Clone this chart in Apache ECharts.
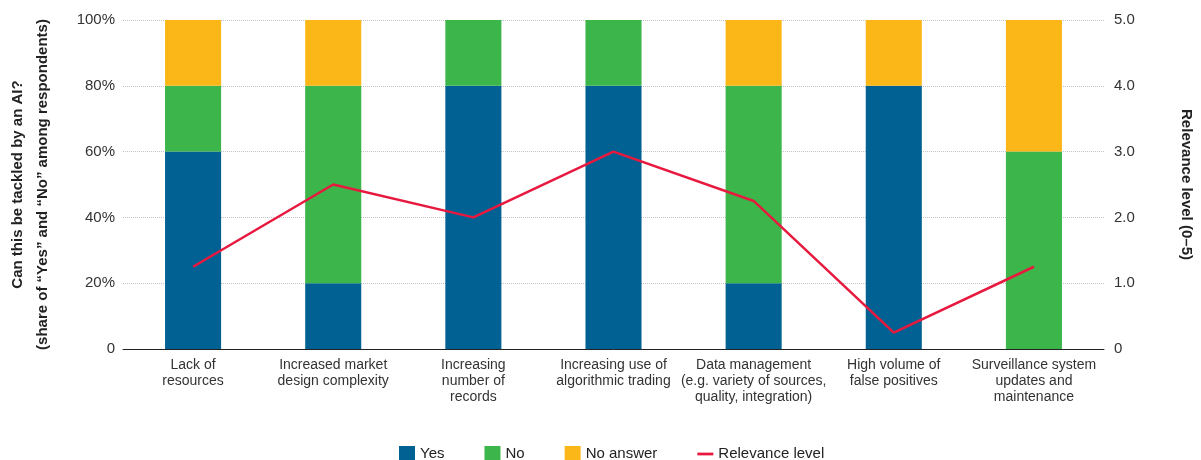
<!DOCTYPE html>
<html>
<head>
<meta charset="utf-8">
<style type="text/css">
body { margin: 0; background: #fff; }
</style>
</head>
<body>
<div style="width: 1201px;height: 460px;" id="chart"></div>
<script src="https://cdn.jsdelivr.net/npm/echarts@6/dist/echarts.min.js"></script>
<script>

const categories = [
    'Lack of\nresources',
    'Increased market\ndesign complexity',
    'Increasing\nnumber of\nrecords',
    'Increasing use of\nalgorithmic trading',
    'Data management\n(e.g. variety of sources,\nquality, integration)',
    'High volume of\nfalse positives',
    'Surveillance system\nupdates and\nmaintenance'
];
const yesShare = [60, 20, 80, 80, 20, 80, 0];
const noShare = [20, 60, 20, 20, 60, 0, 60];
const noAnswerShare = [20, 20, 0, 0, 20, 20, 40];
const relevance = [1.25, 2.5, 2.0, 3.0, 2.25, 0.25, 1.25];

const font = '"Liberation Sans Narrow", "Liberation Sans", Arial, sans-serif';

let chart = echarts.init(document.getElementById('chart'));

let barSeries = (name, data, color) => ({
    name,
    type: 'bar',
    stack: 'share',
    barWidth: '40%',
    yAxisIndex: 0,
    itemStyle: {color},
    data
});

let option = {
    animation: false,
    textStyle: {fontFamily: font},
    grid: {left: 123, right: 97, top: 20, bottom: 111, outerBoundsMode: 'none'},
    legend: {
        top: 441,
        left: 394,
        itemGap: 40,
        itemWidth: 16,
        itemHeight: 16,
        textStyle: {fontSize: 15, color: '#222', fontFamily: font},
        data: [
            {name: 'Yes', icon: 'rect'},
            {name: 'No', icon: 'rect'},
            {name: 'No answer', icon: 'rect'},
            {name: 'Relevance level', icon: 'path://M0,6.75 L16,6.75 L16,9.5 L0,9.5 Z'}
        ]
    },
    xAxis: {
        type: 'category',
        data: categories,
        axisTick: {show: false},
        axisLine: {lineStyle: {color: '#222', width: 1}},
        axisLabel: {
            interval: 0,
            margin: 8,
            fontSize: 14,
            lineHeight: 16,
            color: '#333'
        }
    },
    yAxis: [{
        type: 'value',
        min: 0,
        max: 100,
        interval: 20,
        name: 'Can this be tackled by an AI?\n(share of “Yes” and “No” among respondents)',
        nameLocation: 'middle',
        nameGap: 68,
        nameTextStyle: {fontSize: 15, fontWeight: 'bold', color: '#222', lineHeight: 25},
        axisLine: {show: false},
        axisTick: {show: false},
        axisLabel: {
            fontSize: 15,
            color: '#333',
            margin: 8,
            formatter: v => v === 0 ? '0' : v + '%'
        },
        splitLine: {lineStyle: {type: 'dotted', color: '#c4c4c4'}}
    }, {
        type: 'value',
        min: 0,
        max: 5,
        interval: 1,
        name: 'Relevance level (0–5)',
        nameLocation: 'middle',
        nameRotate: -90,
        nameGap: 75,
        nameTextStyle: {fontSize: 15, fontWeight: 'bold', color: '#222'},
        axisLine: {show: false},
        axisTick: {show: false},
        axisLabel: {
            fontSize: 15,
            color: '#333',
            margin: 10,
            formatter: v => v === 0 ? '0' : v.toFixed(1)
        },
        splitLine: {show: false}
    }],
    series: [
        barSeries('Yes', yesShare, '#006192'),
        barSeries('No', noShare, '#3cb54a'),
        barSeries('No answer', noAnswerShare, '#fbb718'),
        {
            name: 'Relevance level',
            type: 'line',
            yAxisIndex: 1,
            data: relevance,
            symbol: 'none',
            lineStyle: {color: '#e8193f', width: 2.5},
            itemStyle: {color: '#e8193f'}
        }
    ]
};

chart.setOption(option);

</script>
</body>
</html>
